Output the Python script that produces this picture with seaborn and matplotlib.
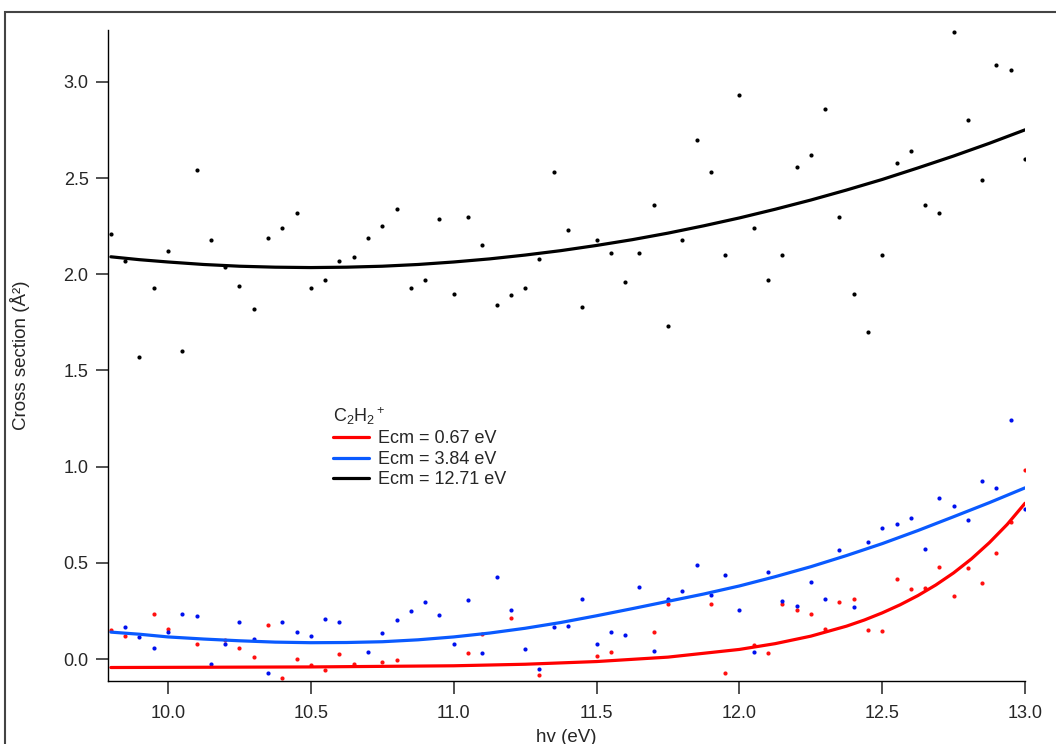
import numpy as np
import pandas as pd
import matplotlib
matplotlib.use("Agg")
import matplotlib.pyplot as plt
from matplotlib.patches import Rectangle
import seaborn as sns

# photon energy (eV), one point every 0.05 eV
hv = [9.80, 9.85, 9.90, 9.95, 10.00, 10.05, 10.10, 10.15, 10.20, 10.25,
      10.30, 10.35, 10.40, 10.45, 10.50, 10.55, 10.60, 10.65, 10.70, 10.75,
      10.80, 10.85, 10.90, 10.95, 11.00, 11.05, 11.10, 11.15, 11.20, 11.25,
      11.30, 11.35, 11.40, 11.45, 11.50, 11.55, 11.60, 11.65, 11.70, 11.75,
      11.80, 11.85, 11.90, 11.95, 12.00, 12.05, 12.10, 12.15, 12.20, 12.25,
      12.30, 12.35, 12.40, 12.45, 12.50, 12.55, 12.60, 12.65, 12.70, 12.75,
      12.80, 12.85, 12.90, 12.95, 13.00]

# cross sections (A^2) -- nan where the point is hidden under a curve
sigma_1271 = [2.21, 2.07, 1.57, 1.93, 2.12, 1.60, 2.54, 2.18, 2.04, 1.94,
              1.82, 2.19, 2.24, 2.32, 1.93, 1.97, 2.07, 2.09, 2.19, 2.25,
              2.34, 1.93, 1.97, 2.29, 1.90, 2.30, 2.15, 1.84, 1.89, 1.93,
              2.08, 2.53, 2.23, 1.83, 2.18, 2.11, 1.96, 2.11, 2.36, 1.73,
              2.18, 2.70, 2.53, 2.10, 2.93, 2.24, 1.97, 2.10, 2.56, 2.62,
              2.86, 2.30, 1.90, 1.70, 2.10, 2.58, 2.64, 2.36, 2.32, 3.26,
              2.80, 2.49, 3.09, 3.06, 2.60]

sigma_384 = [np.nan, 0.166, 0.114, 0.055, 0.140, 0.232, 0.222, -0.028, 0.076, 0.191,
             0.104, -0.071, 0.191, 0.142, 0.121, 0.208, 0.192, np.nan, 0.035, 0.135,
             0.204, 0.250, 0.295, 0.229, 0.080, 0.305, 0.030, 0.426, 0.255, 0.050,
             -0.050, 0.165, 0.170, 0.312, 0.080, 0.140, 0.125, 0.376, 0.042, 0.310,
             0.354, 0.489, 0.333, 0.438, 0.255, 0.036, 0.452, 0.303, 0.277, 0.399,
             0.312, 0.567, 0.272, 0.610, 0.680, 0.702, 0.735, 0.572, 0.837, 0.794,
             0.723, 0.927, 0.888, 1.244, 0.778]

sigma_067 = [0.152, 0.121, np.nan, 0.232, 0.154, np.nan, 0.080, np.nan, 0.097, 0.057,
             0.010, 0.175, -0.097, -0.002, -0.033, -0.057, 0.024, -0.028, np.nan, -0.016,
             -0.003, np.nan, np.nan, np.nan, np.nan, 0.030, 0.128, np.nan, 0.213, np.nan,
             -0.085, np.nan, np.nan, np.nan, 0.014, 0.038, np.nan, np.nan, 0.142, 0.284,
             np.nan, np.nan, 0.288, -0.071, np.nan, 0.074, 0.033, 0.286, 0.255, 0.236,
             0.158, 0.298, 0.312, 0.149, 0.146, 0.416, 0.362, 0.371, 0.477, 0.329,
             0.471, 0.394, 0.551, 0.711, 0.983]

# fitted curves
fit_hv = [9.8, 9.9, 10.0, 10.125, 10.25, 10.375, 10.5, 10.625, 10.75, 10.875,
          11.0, 11.125, 11.25, 11.375, 11.5, 11.625, 11.75, 11.875, 12.0, 12.125,
          12.25, 12.375, 12.5, 12.625, 12.75, 12.875, 13.0]
fit_1271 = [2.091, 2.076, 2.064, 2.051, 2.042, 2.037, 2.035, 2.037, 2.042, 2.051,
            2.064, 2.08, 2.10, 2.123, 2.15, 2.18, 2.214, 2.252, 2.293, 2.338,
            2.386, 2.438, 2.493, 2.553, 2.615, 2.681, 2.751]
fit_384 = [0.14, 0.129, 0.115, 0.104, 0.095, 0.088, 0.085, 0.086, 0.09, 0.10,
           0.115, 0.135, 0.16, 0.19, 0.225, 0.262, 0.30, 0.338, 0.38, 0.428,
           0.48, 0.538, 0.60, 0.668, 0.74, 0.813, 0.89]
fit_067_hv = [9.8, 10.5, 11.0, 11.25, 11.5, 11.75, 12.0, 12.125, 12.25, 12.375,
              12.4375, 12.5, 12.5625, 12.625, 12.6875, 12.75, 12.8125, 12.875,
              12.9375, 13.0]
fit_067 = [-0.044, -0.041, -0.035, -0.027, -0.013, 0.01, 0.05, 0.08, 0.119, 0.171,
           0.203, 0.24, 0.282, 0.33, 0.385, 0.448, 0.521, 0.605, 0.70, 0.81]

sns.set_style("ticks")
plt.rcParams["font.family"] = ["Liberation Sans", "DejaVu Sans"]
plt.rcParams["mathtext.default"] = "regular"

fig = plt.figure(figsize=(10.56, 7.44), dpi=100)
ax = fig.add_axes([0.1023, 0.0847, 0.8684, 0.875])

df = pd.DataFrame({"hv": hv, "s067": sigma_067, "s384": sigma_384, "s1271": sigma_1271})

# points first, fits on top
sns.scatterplot(data=df, x="hv", y="s1271", color="black", s=9, linewidth=0, ax=ax)
sns.scatterplot(data=df, x="hv", y="s067", color="#ff1010", s=9, linewidth=0, ax=ax)
sns.scatterplot(data=df, x="hv", y="s384", color="#0010ee", s=9, linewidth=0, ax=ax)

sns.lineplot(x=fit_067_hv, y=fit_067, color="#ff0000", lw=2.3, ax=ax, label="Ecm = 0.67 eV")
sns.lineplot(x=fit_hv, y=fit_384, color="#0a5aff", lw=2.3, ax=ax, label="Ecm = 3.84 eV")
sns.lineplot(x=fit_hv, y=fit_1271, color="black", lw=2.3, ax=ax, label="Ecm = 12.71 eV")

handles, labels = ax.get_legend_handles_labels()
ax.legend(handles, labels, title="C$_2$H$_2$$^+$", loc="upper left",
          bbox_to_anchor=(0.245, 0.424), frameon=False, fontsize=13,
          title_fontsize=13, handlelength=2.0, handletextpad=0.5,
          labelspacing=0.2, borderaxespad=0, borderpad=0, alignment="left")

ax.set_xlim(9.79, 13.0)
ax.set_ylim(-0.114, 3.27)
ax.set_xticks([10.0, 10.5, 11.0, 11.5, 12.0, 12.5, 13.0])
ax.set_yticks([0.0, 0.5, 1.0, 1.5, 2.0, 2.5, 3.0])
ax.xaxis.set_major_formatter(matplotlib.ticker.FormatStrFormatter("%.1f"))
ax.yaxis.set_major_formatter(matplotlib.ticker.FormatStrFormatter("%.1f"))
ax.tick_params(direction="out", length=9, width=1.2, color="#333333",
               labelsize=13, pad=5)
ax.tick_params(axis="x", pad=8)
for side in ["top", "right"]:
    ax.spines[side].set_visible(False)
for side in ["left", "bottom"]:
    ax.spines[side].set_color("black")
    ax.spines[side].set_linewidth(1.0)

ax.set_xlabel("hv (eV)", fontsize=13.5, labelpad=5)
ax.set_ylabel("Cross section (Å²)", fontsize=13.5, labelpad=24)

# outer frame around the figure
fig.add_artist(Rectangle((5 / 1056, -0.05), 1.2, 0.9839 + 0.05,
                         transform=fig.transFigure, fill=False,
                         lw=1.5, ec="#444444"))

fig.savefig("out.png", dpi=100)
